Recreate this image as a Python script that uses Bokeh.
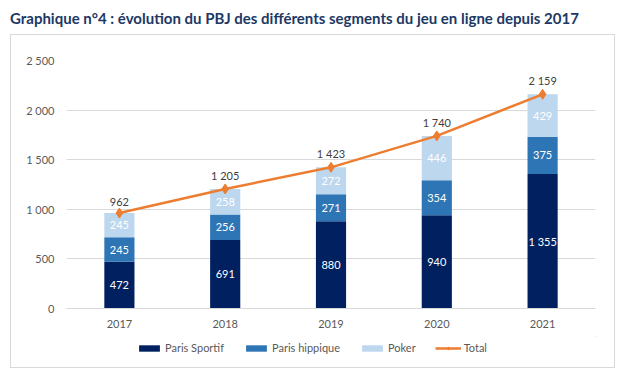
from bokeh.plotting import figure
from bokeh.models import (ColumnDataSource, FactorRange, Range1d, FixedTicker, Div,
                          Legend, LegendItem)
from bokeh.layouts import column
from bokeh.core.properties import value
from bokeh.embed import file_html
from bokeh.resources import INLINE

years = ["2017", "2018", "2019", "2020", "2021"]
paris_sportif = [472, 691, 880, 940, 1355]
paris_hippique = [245, 256, 271, 354, 375]
poker = [245, 258, 272, 446, 429]
total = [962, 1205, 1423, 1740, 2159]
y_ticks = [0, 500, 1000, 1500, 2000, 2500]
y_tick_labels = ["0", "500", "1 000", "1 500", "2 000", "2 500"]
series_names = ["Paris Sportif", "Paris hippique", "Poker"]
colors = ["#002060", "#2E75B6", "#BDD7EE"]
line_color = "#ED7D31"
title_text = "Graphique n°4 : évolution du PBJ des différents segments du jeu en ligne depuis 2017"

FONT = "Lato"

def fmt(v):
    return f"{v:,}".replace(",", " ")

p = figure(width=603, height=301, x_range=FactorRange(*years), y_range=Range1d(0, 2500),
           output_backend="svg", toolbar_location=None,
           min_border_left=55, min_border_right=19, min_border_top=25, min_border_bottom=28)
p.outline_line_color = None
p.background_fill_color = "white"
p.border_fill_color = "white"

src = ColumnDataSource(dict(x=years, ps=paris_sportif, ph=paris_hippique, pk=poker, total=total))
bars = p.vbar_stack(["ps", "ph", "pk"], x="x", width=0.285, color=colors, source=src,
                    line_color=None)

seg_x, seg_y, seg_t = [], [], []
for i, yr in enumerate(years):
    base = 0
    for vals in (paris_sportif, paris_hippique, poker):
        v = vals[i]
        seg_x.append(yr)
        seg_y.append(base + v / 2)
        seg_t.append(fmt(v))
        base += v
p.text(x=seg_x, y=seg_y, text=seg_t, text_color="white", text_font=value(FONT),
       text_font_size="11px", text_align="center", text_baseline="middle")

p.line(years, total, color=line_color, line_width=2.5)
p.scatter(years, total, marker="diamond", size=10, color=line_color)
p.text(x=years, y=total, text=[fmt(v) for v in total], text_color="#404040",
       text_font=value(FONT), text_font_size="11px", text_align="center",
       text_baseline="bottom", y_offset=-7)

p.yaxis.ticker = FixedTicker(ticks=y_ticks)
p.yaxis.major_label_overrides = {t: l for t, l in zip(y_ticks, y_tick_labels)}
p.yaxis.axis_line_color = None
p.yaxis.major_tick_line_color = None
p.yaxis.minor_tick_line_color = None
p.yaxis.major_tick_out = 0
p.yaxis.major_label_standoff = 12
for ax in (p.xaxis, p.yaxis):
    ax.major_label_text_font = FONT
    ax.major_label_text_font_size = "11px"
    ax.major_label_text_color = "#595959"
p.xaxis.axis_line_color = "#D9D9D9"
p.xaxis.major_tick_line_color = None
p.xaxis.minor_tick_line_color = None
p.xaxis.major_tick_out = 0
p.xaxis.major_label_standoff = 11
p.xgrid.grid_line_color = None
p.ygrid.grid_line_color = "#D9D9D9"
p.ygrid.grid_line_width = 1

# legend strip (separate small figure; its sample glyphs sit outside its visible range)
q = figure(width=603, height=31, output_backend="svg", toolbar_location=None,
           x_axis_type=None, y_axis_type=None, min_border=0,
           x_range=Range1d(0, 1), y_range=Range1d(0, 1))
q.outline_line_color = None
q.xgrid.grid_line_color = None
q.ygrid.grid_line_color = None
lg_bars = [q.vbar(x=[5], top=[5], bottom=[4], width=0.3, color=c, line_color=None)
           for c in colors]
lg_line = q.line(x=[5, 6], y=[5, 5], color=line_color, line_width=2.5)
lg_pts = q.scatter(x=[5], y=[5], marker="diamond", size=11, color=line_color)
items = [LegendItem(label=n, renderers=[r]) for n, r in zip(series_names, lg_bars)]
items.append(LegendItem(label="Total", renderers=[lg_line, lg_pts]))
legend = Legend(items=items, orientation="horizontal", location=(70, 13),
                glyph_width=26, glyph_height=8, label_height=12, label_standoff=3,
                spacing=19, padding=0, margin=0, border_line_color=None,
                background_fill_alpha=0, label_text_font=FONT,
                label_text_font_size="11px", label_text_color="#595959")
q.add_layout(legend, "center")

box = column(p, q, spacing=0, margin=(0, 0, 0, 11),
             styles={"outline": "1px solid #D9D9D9"})

title = Div(text=title_text, width=619, height=35, margin=(0, 0, 0, 10),
            styles={"font-family": FONT, "font-weight": "bold", "font-size": "15px",
                    "color": "#203864", "padding-top": "10px", "line-height": "16px"})

layout = column(title, box, spacing=0)
open("out.html", "w").write(file_html(layout, INLINE))
